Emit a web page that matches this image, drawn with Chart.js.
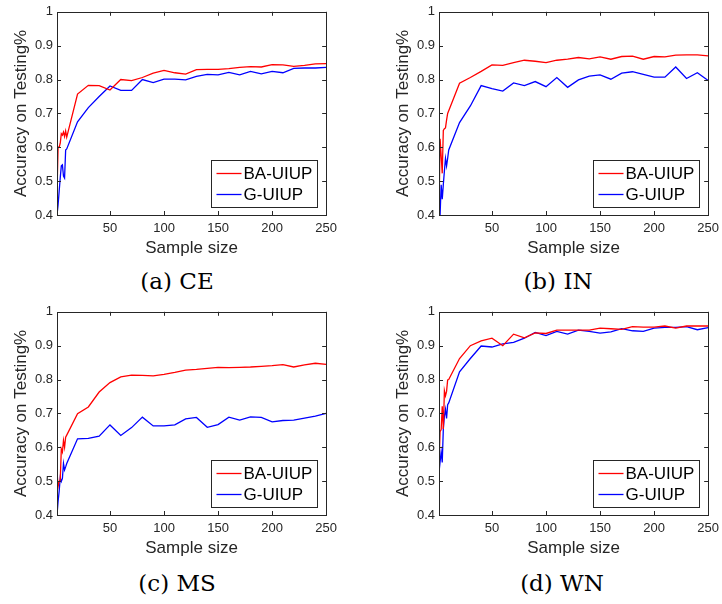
<!DOCTYPE html>
<html>
<head>
<meta charset="utf-8">
<script src="https://cdn.jsdelivr.net/npm/chart.js@4/dist/chart.umd.min.js"></script>
<style>
  html, body { margin: 0; padding: 0; background: #fff; }
  body { width: 722px; height: 604px; position: relative; overflow: hidden; }
  .panel { position: absolute; width: 343px; height: 260px; }
  .caption {
    position: absolute;
    font-family: "DejaVu Serif", "Liberation Serif", serif;
    font-size: 23px;
    color: #000;
    transform: translate(-50%, -50%);
    white-space: nowrap;
  }
</style>
</head>
<body>
<div class="panel" style="left:0;top:0"><canvas id="chartCE"></canvas></div>
<div class="panel" style="left:382px;top:0"><canvas id="chartIN"></canvas></div>
<div class="panel" style="left:0;top:300px"><canvas id="chartMS"></canvas></div>
<div class="panel" style="left:382px;top:300px"><canvas id="chartWN"></canvas></div>
<div class="caption" style="left:177px;top:281px">(a) CE</div>
<div class="caption" style="left:558px;top:281px">(b) IN</div>
<div class="caption" style="left:177px;top:583px">(c) MS</div>
<div class="caption" style="left:562px;top:583px">(d) WN</div>

<script>
// sample sizes on the x axis
const sampleSize = [1, 2, 3, 4, 5, 6, 7, 8, 9, 10, 20, 30, 40, 50, 60, 70, 80, 90, 100,
  110, 120, 130, 140, 150, 160, 170, 180, 190, 200, 210, 220, 230, 240, 250];
const xTicks = [50, 100, 150, 200, 250];
const yTicks = [0.4, 0.5, 0.6, 0.7, 0.8, 0.9, 1];
const seriesNames = ["BA-UIUP", "G-UIUP"];

// (a) CE
const ceBA = [0.467, 0.600, 0.600, 0.612, 0.640, 0.636, 0.645, 0.632, 0.648, 0.630,
  0.757, 0.783, 0.782, 0.769, 0.800, 0.797, 0.806, 0.819, 0.827, 0.820, 0.816, 0.829,
  0.830, 0.830, 0.832, 0.836, 0.838, 0.837, 0.844, 0.843, 0.839, 0.842, 0.846, 0.847];
const ceG = [0.400, 0.430, 0.470, 0.510, 0.545, 0.548, 0.515, 0.509, 0.592, 0.595,
  0.675, 0.717, 0.750, 0.781, 0.768, 0.768, 0.800, 0.791, 0.801, 0.801, 0.799, 0.809,
  0.815, 0.814, 0.821, 0.814, 0.824, 0.817, 0.824, 0.820, 0.833, 0.834, 0.834, 0.836];

// (b) IN
const inBA = [0.400, 0.625, 0.575, 0.523, 0.650, 0.655, 0.657, 0.680, 0.700, 0.708,
  0.789, 0.806, 0.824, 0.843, 0.842, 0.850, 0.857, 0.854, 0.850, 0.857, 0.860, 0.865,
  0.861, 0.867, 0.860, 0.868, 0.869, 0.860, 0.868, 0.867, 0.872, 0.873, 0.873, 0.870];
const inG = [0.400, 0.400, 0.489, 0.447, 0.490, 0.530, 0.567, 0.545, 0.567, 0.592,
  0.673, 0.722, 0.782, 0.773, 0.766, 0.790, 0.782, 0.794, 0.779, 0.806, 0.777, 0.799,
  0.810, 0.814, 0.801, 0.819, 0.823, 0.815, 0.807, 0.807, 0.837, 0.803, 0.820, 0.797];

// (c) MS
const msBA = [0.528, 0.484, 0.499, 0.504, 0.595, 0.586, 0.620, 0.600, 0.630, 0.636,
  0.699, 0.719, 0.763, 0.791, 0.808, 0.813, 0.812, 0.811, 0.815, 0.821, 0.828, 0.830,
  0.833, 0.836, 0.835, 0.836, 0.837, 0.839, 0.841, 0.844, 0.837, 0.843, 0.848, 0.845];
const msG = [0.400, 0.440, 0.470, 0.510, 0.499, 0.508, 0.552, 0.533, 0.542, 0.552,
  0.625, 0.626, 0.633, 0.666, 0.635, 0.658, 0.689, 0.663, 0.663, 0.666, 0.684, 0.688,
  0.659, 0.667, 0.689, 0.680, 0.690, 0.688, 0.675, 0.679, 0.680, 0.686, 0.692, 0.700];

// (d) WN
const wnBA = [0.547, 0.646, 0.652, 0.721, 0.654, 0.767, 0.752, 0.765, 0.799, 0.800,
  0.862, 0.900, 0.914, 0.922, 0.900, 0.934, 0.923, 0.938, 0.936, 0.946, 0.946, 0.946,
  0.946, 0.952, 0.950, 0.948, 0.956, 0.955, 0.955, 0.958, 0.952, 0.958, 0.958, 0.958];
const wnG = [0.526, 0.557, 0.586, 0.555, 0.654, 0.692, 0.712, 0.685, 0.726, 0.731,
  0.823, 0.862, 0.899, 0.896, 0.905, 0.910, 0.922, 0.939, 0.930, 0.942, 0.934, 0.946,
  0.942, 0.937, 0.941, 0.950, 0.944, 0.942, 0.952, 0.954, 0.954, 0.956, 0.947, 0.953];

const axisColor = "#262626";
Chart.defaults.font.family = '"Liberation Sans", Arial, Helvetica, sans-serif';
Chart.defaults.color = axisColor;

// box around the plot, inward tick marks and a boxed legend in the lower right
const matlabAxes = {
  id: "matlabAxes",
  afterDatasetsDraw(chart) {
    const ctx = chart.ctx;
    const a = chart.chartArea;
    const xs = chart.scales.x, ys = chart.scales.y;
    ctx.save();
    ctx.strokeStyle = axisColor;
    ctx.lineWidth = 1;
    ctx.beginPath();
    xs.ticks.forEach(t => {
      const px = Math.round(xs.getPixelForValue(t.value)) + 0.5;
      ctx.moveTo(px, a.bottom); ctx.lineTo(px, a.bottom - 4);
      ctx.moveTo(px, a.top); ctx.lineTo(px, a.top + 4);
    });
    ys.ticks.forEach(t => {
      const py = Math.round(ys.getPixelForValue(t.value)) + 0.5;
      ctx.moveTo(a.left, py); ctx.lineTo(a.left + 4, py);
      ctx.moveTo(a.right, py); ctx.lineTo(a.right - 4, py);
    });
    ctx.stroke();
    ctx.strokeRect(Math.round(a.left) + 0.5, Math.round(a.top) + 0.5,
      Math.round(a.right - a.left), Math.round(a.bottom - a.top));

    // legend
    const w = 106, h = 47;
    const bx = Math.round(a.right - 9 - w) + 0.5;
    const by = Math.round(a.bottom - 8 - h) + 0.5;
    ctx.fillStyle = "#fff";
    ctx.fillRect(bx, by, w, h);
    ctx.strokeRect(bx, by, w, h);
    ctx.font = '17px "Liberation Sans", Arial, sans-serif';
    ctx.textBaseline = "middle";
    chart.data.datasets.forEach((ds, i) => {
      const ly = by + 13 + i * 21;
      ctx.strokeStyle = ds.borderColor;
      ctx.lineWidth = 1.3;
      ctx.beginPath();
      ctx.moveTo(bx + 5, ly); ctx.lineTo(bx + 30, ly);
      ctx.stroke();
      ctx.fillStyle = "#000";
      ctx.fillText(ds.label, bx + 32, ly + 1);
    });
    ctx.restore();
  }
};

function makePanel(id, baValues, gValues) {
  const toPoints = vals => sampleSize.map((x, i) => ({ x: x, y: vals[i] }));
  new Chart(document.getElementById(id).getContext("2d"), {
    type: "line",
    data: {
      datasets: [
        { label: seriesNames[0], data: toPoints(baValues), borderColor: "#ff0000" },
        { label: seriesNames[1], data: toPoints(gValues), borderColor: "#0000ff" }
      ]
    },
    options: {
      responsive: true,
      maintainAspectRatio: false,
      animation: false,
      layout: { padding: { top: 9, right: 11, left: 0, bottom: 0 } },
      elements: {
        line: { borderWidth: 1.3, tension: 0, fill: false },
        point: { radius: 0 }
      },
      plugins: {
        legend: { display: false },
        tooltip: { enabled: false }
      },
      scales: {
        x: {
          type: "linear",
          min: 1,
          max: 250,
          grid: { display: false, drawTicks: false },
          border: { display: false },
          afterBuildTicks: s => { s.ticks = xTicks.map(v => ({ value: v })); },
          afterFit: s => { s.height = 45; },
          ticks: { font: { size: 13 }, padding: 6, maxRotation: 0, autoSkip: false },
          title: { display: true, text: "Sample size", font: { size: 17 }, padding: { top: 0, bottom: 1 } }
        },
        y: {
          min: 0.4,
          max: 1,
          grid: { display: false, drawTicks: false },
          border: { display: false },
          afterBuildTicks: s => { s.ticks = yTicks.map(v => ({ value: v })); },
          afterFit: s => { s.width = 57; },
          ticks: { font: { size: 13 }, padding: 4, callback: v => String(Math.round(v * 10) / 10) },
          title: { display: true, text: "Accuracy on Testing%", font: { size: 17 }, padding: { top: 11, bottom: 0 } }
        }
      }
    },
    plugins: [matlabAxes]
  });
}

makePanel("chartCE", ceBA, ceG);
makePanel("chartIN", inBA, inG);
makePanel("chartMS", msBA, msG);
makePanel("chartWN", wnBA, wnG);
</script>
</body>
</html>
